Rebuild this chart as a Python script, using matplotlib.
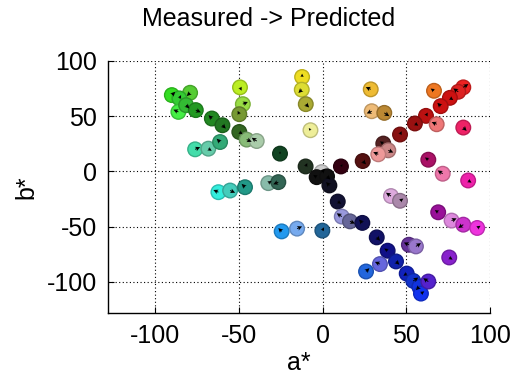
import matplotlib
matplotlib.use("Agg")
import matplotlib.pyplot as plt
from matplotlib.colors import to_rgb

plt.rcParams.update({
    "font.family": ["Liberation Sans", "DejaVu Sans"],
    "font.size": 18,
    "axes.unicode_minus": False,
})

a_med = [-90.0, -79.1, -85.5, -86.1, -81.5, -75.7, -66.1, -59.8, -76.1, -68.2,
         -61.2, -49.3, -47.6, -49.7, -49.7, -45.3, -39.3, -25.4, -12.2, -12.4,
         -10.0, -7.2, -10.1, -62.2, -55.2, -46.3, -32.4, -26.4, -24.4, -15.2,
         -0.1, 28.8, 29.4, 36.9, 66.6, 84.1, 81.1, 76.1, 70.6, 61.8,
         55.2, 68.2, 84.1, 46.3, 36.3, 39.3, 33.3, 24.0, 63.2, 71.8,
         87.0, -0.5, -3.5, 2.7, 11.0, 4.1, 9.1, 40.9, 46.3, 11.5,
         16.4, 23.8, 69.1, 77.1, 84.1, 92.4, 32.4, 51.6, 55.8, 38.9,
         43.9, 34.3, 26.0, 50.3, 54.2, 57.8, 58.8, 63.2, 75.7]
b_med = [69.1, 71.2, 66.1, 53.9, 60.0, 55.5, 47.9, 41.8, 20.0, 20.6,
         26.6, 76.1, 60.9, 51.8, 35.7, 28.8, 27.5, 16.1, 85.5, 74.0,
         60.9, 37.3, 4.5, -18.8, -17.3, -14.3, -10.6, -9.7, -54.3, -51.8,
         -53.6, 74.3, 54.5, 53.0, 73.0, 76.1, 72.1, 66.6, 59.1, 50.3,
         43.4, 42.7, 39.7, 33.4, 25.2, 19.1, 15.5, 9.4, 10.6, -2.1,
         -8.2, -0.6, -5.2, -4.5, 4.5, -12.7, -27.3, -22.3, -26.6, -40.9,
         -45.2, -46.6, -37.0, -44.5, -48.2, -51.2, -59.7, -66.4, -67.9, -71.8,
         -81.5, -83.9, -90.6, -92.5, -99.1, -104.5, -110.6, -99.7, -77.9]

# deslocamento medido -> previsto (setas pequenas)
da = [2, -2, 1, -3, 2, 3, -2, 2, 3, 2,
      -2, 1, 3, -1, 2, 3, -3, 0, 0, -2,
      2, -1, 1, -3, 3, -2, 2, -3, -2, 3,
      1, -3, -3, 3, -2, 3, -3, 2, -2, 1,
      2, -3, 2, 1, -2, 3, -3, 2, -2, -3,
      2, 2, -2, 2, 1, -2, 2, -3, 2, -3,
      3, -2, -2, 3, -3, 2, 2, -3, 3, -2,
      2, -3, 2, -2, 3, -2, 2, -3, 2]
db = [3, -3, 3, 2, -3, -2, 3, -3, 2, -2,
      3, -3, 2, 3, -2, -2, 3, 2, 3, -3,
      -3, 2, 3, 2, -2, 3, 2, -2, 3, 2,
      3, 2, -2, -3, 2, 3, 3, -2, 3, 3,
      -2, 2, -3, 3, 2, -2, 2, -3, 2, 3,
      -2, 3, 2, -3, 2, 3, -2, 3, 2, 3,
      -2, 3, 2, 2, -3, 2, -3, 2, 3, 2,
      -3, 2, 3, -2, 3, -3, 2, 3, -2]

cores = ["#33dd22", "#55cc33", "#33cc33", "#44ee44", "#33bb33", "#229922", "#228822", "#227722", "#44ddaa", "#66ccaa",
         "#33aa77", "#bbee22", "#99dd44", "#779933", "#336622", "#88bb77", "#aaccaa", "#114422", "#eedd22", "#dddd33",
         "#aaaa33", "#eeee99", "#223322", "#33eedd", "#44ccbb", "#229988", "#88bbaa", "#336655", "#2299ee", "#77aaee",
         "#226699", "#eebb33", "#eebb77", "#bb8833", "#ee7722", "#ee2222", "#dd2222", "#cc1111", "#cc1111", "#bb1111",
         "#991111", "#ee7777", "#ee2266", "#881111", "#552222", "#cc8888", "#ee9999", "#551111", "#aa1166", "#ee77aa",
         "#ee22aa", "#cccccc", "#111111", "#111111", "#330011", "#111122", "#111133", "#ddaadd", "#aa88aa", "#9999dd",
         "#666699", "#111155", "#991199", "#dd88dd", "#cc33cc", "#ee33dd", "#111166", "#663399", "#9977cc", "#111188",
         "#1122aa", "#6666dd", "#2266dd", "#1122bb", "#1133cc", "#1133dd", "#1133ee", "#5522cc", "#8822cc"]

bordas = [tuple(c * 0.8 for c in to_rgb(h)) for h in cores]

fig = plt.figure(figsize=(5.13, 3.81), dpi=100)
ax = fig.add_axes([0.211, 0.179, 0.744, 0.661])

ax.scatter(a_med, b_med, s=110, c=cores, edgecolors=bordas, linewidths=1.0,
           marker="o", zorder=3)
ax.quiver(a_med, b_med, da, db, angles="xy", scale_units="xy", scale=1.0,
          color="black", width=0.0025, headwidth=5, headlength=5,
          headaxislength=4, zorder=4)

ax.set_xlim(-128, 100)
ax.set_ylim(-128, 100)
ax.set_xticks([-100, -50, 0, 50, 100])
ax.set_yticks([-100, -50, 0, 50, 100])
ax.grid(True, color="black", linestyle=(0, (1, 2.2)), linewidth=0.8)
ax.set_axisbelow(True)
for lado in ["top", "right"]:
    ax.spines[lado].set_visible(False)
ax.spines["left"].set_linewidth(1.0)
ax.spines["bottom"].set_linewidth(1.0)
ax.tick_params(direction="in", length=4, width=0.8, pad=8)

ax.set_xlabel("a*", labelpad=2)
ax.set_ylabel("b*", labelpad=6)
fig.text(269 / 513, 1 - 19 / 381, "Measured -> Predicted", ha="center",
         va="center", fontsize=18)

fig.savefig("out.png", dpi=100)
